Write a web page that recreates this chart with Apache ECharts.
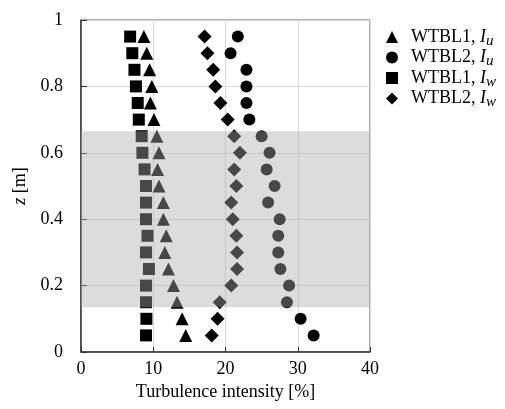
<!DOCTYPE html>
<html>
<head>
<meta charset="utf-8">
<script src="https://cdn.jsdelivr.net/npm/echarts@6/dist/echarts.min.js"></script>
</head>
<body style="margin:0">
<div id="ch" style="width: 505px; height: 409px;"></div>
<script>
// heights z [m], bottom to top
var heights = [0.05, 0.1, 0.15, 0.2, 0.25, 0.3, 0.35, 0.4, 0.45, 0.5, 0.55, 0.6, 0.65, 0.7, 0.75, 0.8, 0.85, 0.9, 0.95]
// turbulence intensity [%]
var wtbl1Iu = [14.5, 14.0, 13.3, 12.8, 12.1, 11.6, 11.8, 11.4, 11.4, 10.8, 10.6, 10.8, 10.5, 10.1, 9.6, 9.8, 9.5, 9.1, 8.7]
var wtbl2Iu = [32.2, 30.4, 28.5, 28.8, 27.6, 27.3, 27.3, 27.5, 25.9, 26.8, 25.7, 26.1, 25.0, 23.3, 22.9, 22.9, 22.9, 20.7, 21.7]
var wtbl1Iw = [9.0, 9.05, 9.0, 9.0, 9.4, 9.0, 9.2, 9.0, 9.0, 9.0, 8.8, 8.5, 8.4, 8.0, 7.85, 7.6, 7.4, 7.1, 6.8]
var wtbl2Iw = [18.1, 18.9, 19.2, 20.8, 21.6, 21.6, 21.5, 21.0, 20.8, 21.5, 21.2, 22.0, 21.2, 20.3, 19.3, 18.6, 18.3, 17.5, 17.1]
var seriesNames = ['WTBL1, I_u', 'WTBL2, I_u', 'WTBL1, I_w', 'WTBL2, I_w']
var shadedBand = [0.135, 0.665]

var font = 'Liberation Serif'

function pairs(vals) {
    return vals.map(function(v, i) {
        return [v, heights[i]]
    })
}

function mk(name, vals, symbol, size) {
    return {
        name: name,
        type: 'scatter',
        data: pairs(vals),
        symbol: symbol,
        symbolSize: size,
        itemStyle: { color: '#000', opacity: 1 },
        z: 2
    }
}

var chartInst = echarts.init(document.getElementById('ch'))
var option = {
    animation: false,
    grid: {
        left: 81, right: 135, top: 20, bottom: 57,
        show: true, borderColor: '#555', borderWidth: 1
    },
    legend: {
        orient: 'vertical',
        left: 381, top: 23,
        itemWidth: 12, itemHeight: 12,
        itemGap: 0,
        data: seriesNames.map(function(n, i) {
            return { name: n, icon: ['triangle', 'circle', 'rect', 'diamond'][i] }
        }),
        formatter: function(name) {
            var p = name.split(', I_')
            return '{n|' + p[0] + ', }{i|I}{s|' + p[1] + '}'
        },
        textStyle: {
            fontFamily: font,
            color: '#000',
            rich: {
                n: { fontFamily: font, fontSize: 18, color: '#000', padding: [0, 0, 0, 8] },
                i: { fontFamily: font, fontSize: 18, fontStyle: 'italic', color: '#000' },
                s: { fontFamily: font, fontSize: 15, fontStyle: 'italic', color: '#000', padding: [8, 0, 0, 0] }
            }
        }
    },
    xAxis: {
        type: 'value',
        min: 0, max: 40, interval: 10,
        name: 'Turbulence intensity [%]',
        nameLocation: 'middle',
        nameGap: 30,
        nameTextStyle: { fontFamily: font, fontSize: 18, color: '#000' },
        axisLine: { lineStyle: { color: '#333', width: 1.5 } },
        axisTick: { show: true, inside: true, length: 5, lineStyle: { color: '#333' } },
        axisLabel: { fontFamily: font, fontSize: 18, color: '#000', margin: 8 },
        splitLine: { lineStyle: { color: '#d9d9d9', width: 1 } }
    },
    yAxis: {
        type: 'value',
        min: 0, max: 1, interval: 0.2,
        name: '{i|z} [m]',
        nameLocation: 'middle',
        nameGap: 42,
        nameTextStyle: {
            fontFamily: font, fontSize: 18, color: '#000',
            rich: { i: { fontFamily: font, fontSize: 18, fontStyle: 'italic', color: '#000' } }
        },
        axisLine: { lineStyle: { color: '#333', width: 1.5 } },
        axisTick: { show: true, inside: true, length: 6, lineStyle: { color: '#333' } },
        axisLabel: { fontFamily: font, fontSize: 18, color: '#000', margin: 18 },
        splitLine: { lineStyle: { color: '#d9d9d9', width: 1 } }
    },
    series: [
        mk(seriesNames[0], wtbl1Iu, 'triangle', 13),
        mk(seriesNames[1], wtbl2Iu, 'circle', 12),
        mk(seriesNames[2], wtbl1Iw, 'rect', 12),
        mk(seriesNames[3], wtbl2Iw, 'diamond', 14),
        {
            type: 'scatter',
            data: [],
            z: 10,
            markArea: {
                z: 10,
                silent: true,
                itemStyle: { color: 'rgba(171,171,171,0.42)' },
                data: [[{ yAxis: shadedBand[0] }, { yAxis: shadedBand[1] }]]
            }
        }
    ]
}
chartInst.setOption(option)
</script>
</body>
</html>
